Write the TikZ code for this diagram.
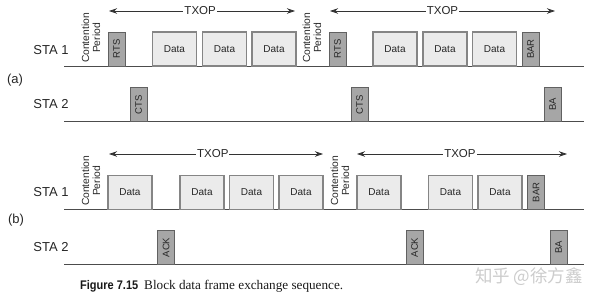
\documentclass[tikz,border=0pt]{standalone}
\usepackage{fontspec}
\usepackage{graphicx}
\setmainfont{Liberation Sans}
\newfontfamily\capserif{Liberation Serif}
\newfontfamily\cjk{Noto Sans CJK SC}
\usetikzlibrary{arrows.meta}
\begin{document}
\begin{tikzpicture}[x=1pt,y=-1pt,
  lbl/.style={font=\fontsize{13}{15}\selectfont, text=black!85, inner sep=0pt},
  databox/.style={draw=black!48, fill=black!8, line width=1.2pt, minimum width=44pt, minimum height=34pt, inner sep=0pt, font=\fontsize{10}{12}\selectfont, text=black!85},
  ctlbox/.style={draw=black!62, fill=black!35, line width=1pt, minimum width=34pt, minimum height=17pt, rotate=90, inner sep=0pt, font=\fontsize{9.5}{11}\selectfont, text=black!85},
  contlbl/.style={rotate=90, align=center, font=\fontsize{10.3}{11}\selectfont, text=black!85, inner sep=0pt},
  baseln/.style={draw=black!70, line width=0.9pt},
  txoparrow/.style={draw=black!80, line width=0.8pt, {Stealth[length=8pt,width=5.5pt]}-{Stealth[length=8pt,width=5.5pt]}},
  txoplbl/.style={fill=white, font=\fontsize{11.5}{13}\selectfont, text=black!85, inner sep=1pt}
]
\useasboundingbox (0,0) rectangle (600,303);

% ---------- panel (a) ----------
\node[lbl] (staa1) at (51,50) {STA 1};
\node[lbl] (staa2) at (51,104) {STA 2};
\node[lbl] (pa) at (15,80) {(a)};

\coordinate (la1s) at (64,66);  \coordinate (la1e) at (584,66);
\coordinate (la2s) at (64,121); \coordinate (la2e) at (584,121);
\draw[baseln] (la1s) -- (la1e);
\draw[baseln] (la2s) -- (la2e);

\node[contlbl] (cpa1) at (91,38) {Contention\\Period};
\node[contlbl] (cpa2) at (312,38) {Contention\\Period};

\node[ctlbox] (rtsa1) at (116.5,49) {RTS};
\node[databox] (da1) at (174.5,49) {Data};
\node[databox] (da2) at (224.5,49) {Data};
\node[databox] (da3) at (274,49) {Data};
\node[ctlbox] (rtsa2) at (337.5,49) {RTS};
\node[databox] (da4) at (395,49) {Data};
\node[databox] (da5) at (445,49) {Data};
\node[databox] (da6) at (494.5,49) {Data};
\node[ctlbox] (bara) at (530.5,49) {BAR};

\node[ctlbox] (ctsa1) at (138.5,104.5) {CTS};
\node[ctlbox] (ctsa2) at (359.5,104.5) {CTS};
\node[ctlbox] (baa) at (552.5,104.5) {BA};

\coordinate (ta1s) at (109,11); \coordinate (ta1e) at (295,11);
\coordinate (ta2s) at (330,11); \coordinate (ta2e) at (555,11);
\draw[txoparrow] (ta1s) -- node[txoplbl, pos=0.49] (txa1) {TXOP} (ta1e);
\draw[txoparrow] (ta2s) -- node[txoplbl] (txa2) {TXOP} (ta2e);

% ---------- panel (b) ----------
\node[lbl] (stab1) at (51,192) {STA 1};
\node[lbl] (stab2) at (51,247) {STA 2};
\node[lbl] (pb) at (16,220) {(b)};

\coordinate (lb1s) at (64,209);  \coordinate (lb1e) at (584,209);
\coordinate (lb2s) at (64,264);  \coordinate (lb2e) at (584,264);
\draw[baseln] (lb1s) -- (lb1e);
\draw[baseln] (lb2s) -- (lb2e);

\node[contlbl] (cpb1) at (91,181) {Contention\\Period};
\node[contlbl] (cpb2) at (340,181) {Contention\\Period};

\node[databox] (db1) at (130,192.5) {Data};
\node[databox] (db2) at (202,192.5) {Data};
\node[databox] (db3) at (251.5,192.5) {Data};
\node[databox] (db4) at (301,192.5) {Data};
\node[databox] (db5) at (379,192.5) {Data};
\node[databox] (db6) at (450.5,192.5) {Data};
\node[databox] (db7) at (500,192.5) {Data};
\node[ctlbox] (barb) at (536,192.5) {BAR};

\node[ctlbox] (ackb1) at (166,247.5) {ACK};
\node[ctlbox] (ackb2) at (414.5,247.5) {ACK};
\node[ctlbox] (bab) at (558.5,247.5) {BA};

\coordinate (tb1s) at (109,154); \coordinate (tb1e) at (323,154);
\coordinate (tb2s) at (357,154); \coordinate (tb2e) at (567,154);
\draw[txoparrow] (tb1s) -- node[txoplbl, pos=0.485] (txb1) {TXOP} (tb1e);
\draw[txoparrow] (tb2s) -- node[txoplbl, pos=0.49] (txb2) {TXOP} (tb2e);

% ---------- caption & watermark ----------
\node[anchor=base west, inner sep=0pt, text=black!90] (capfig) at (80,289)
  {\scalebox{0.88}[1]{\fontsize{12.5}{14}\selectfont\bfseries Figure 7.15}};
\node[anchor=base west, inner sep=0pt, text=black!90] (captxt) at (144,289)
  {\capserif\fontsize{13.2}{15}\selectfont Block data frame exchange sequence.};
\node[text=black!20, inner sep=0pt] (wm) at (529,277)
  {\cjk\fontsize{17.5}{19}\selectfont 知乎 @徐方鑫};
\end{tikzpicture}
\end{document}
